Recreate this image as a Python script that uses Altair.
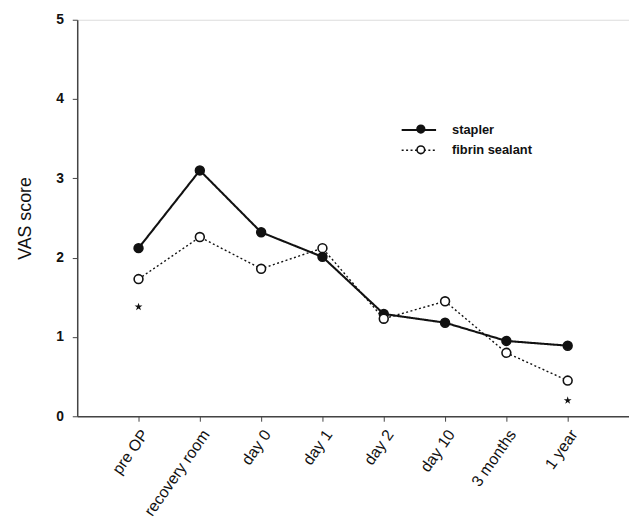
import altair as alt
import pandas as pd

timepoints = ["pre OP", "recovery room", "day 0", "day 1", "day 2", "day 10", "3 months", "1 year"]
series_names = ["stapler", "fibrin sealant"]
stapler = [2.12, 3.10, 2.32, 2.01, 1.29, 1.18, 0.95, 0.89]
fibrin = [1.73, 2.26, 1.86, 2.12, 1.23, 1.45, 0.80, 0.45]
star_times = ["pre OP", "1 year"]
star_values = [1.38, 0.20]
y_ticks = [0, 1, 2, 3, 4, 5]

rows = []
for name, vals in zip(series_names, [stapler, fibrin]):
    for t, v in zip(timepoints, vals):
        rows.append({"time": t, "series": name, "marker": name, "value": v})
df = pd.DataFrame(rows)
stars = pd.DataFrame({"time": star_times, "value": star_values})

STAR = ("M0,-1L0.2245,-0.309L0.951,-0.309L0.363,0.118L0.588,0.809L0,0.382"
        "L-0.588,0.809L-0.363,0.118L-0.951,-0.309L-0.2245,-0.309Z")
WIDE_LINE = "M-2.9,0L2.9,0"

x_enc = alt.X("time:N", sort=timepoints,
              scale=alt.Scale(type="point", padding=1),
              axis=alt.Axis(title=None, labelAngle=-55, labelAlign="right",
                            labelBaseline="middle", labelFontSize=16,
                            labelFont="Liberation Sans", labelColor="#111",
                            tickSize=5, labelPadding=10, labelOffset=6,
                            domainColor="#444", tickColor="#444",
                            domainWidth=1.5, grid=False))
y_enc = alt.Y("value:Q", scale=alt.Scale(domain=[0, 5], nice=False, zero=True),
              axis=alt.Axis(title="VAS score", values=y_ticks, format="d",
                            labelFontSize=14, labelFontWeight="bold",
                            labelFont="Liberation Sans", labelColor="#111",
                            titleFontSize=18, titleFontWeight="normal",
                            titleFont="Liberation Sans", titleColor="#111",
                            titlePadding=21, labelPadding=9, tickSize=5,
                            domainColor="#444", tickColor="#444",
                            domainWidth=1.5, grid=False))

lines = alt.Chart(df).mark_line(color="#111").encode(
    x=x_enc, y=y_enc,
    strokeDash=alt.StrokeDash("series:N", sort=series_names,
        scale=alt.Scale(domain=series_names, range=[[1, 0], [2, 2.5]]),
        legend=alt.Legend(title=None, orient="none", legendX=338, legendY=104,
                          symbolType=WIDE_LINE, symbolSize=144,
                          symbolStrokeColor="#111", symbolStrokeWidth=1.6,
                          labelFontSize=13, labelFontWeight="bold",
                          labelFont="Liberation Sans", labelColor="#111",
                          labelOffset=26, rowPadding=6)),
    strokeWidth=alt.StrokeWidth("series:N",
        scale=alt.Scale(domain=series_names, range=[2.1, 1.4]), legend=None),
)

points = alt.Chart(df).mark_point(filled=False, size=80, strokeWidth=1.6,
                                  stroke="#111", opacity=1, shape="circle").encode(
    x=alt.X("time:N", sort=timepoints),
    y="value:Q",
    fill=alt.Fill("marker:N", sort=series_names,
        scale=alt.Scale(range=["#111", "white"]),
        legend=alt.Legend(title=None, orient="none", legendX=341, legendY=104,
                          symbolType="circle", symbolSize=60,
                          symbolStrokeColor="#111", symbolStrokeWidth=1.6,
                          labelFontSize=13, labelExpr="''", labelOpacity=0,
                          labelFont="Liberation Sans", rowPadding=6)),
)

star_layer = alt.Chart(stars).mark_point(shape=STAR, size=70, filled=True,
                                         color="#111", opacity=1).encode(
    x=alt.X("time:N", sort=timepoints),
    y="value:Q",
)

chart = alt.layer(lines, points, star_layer).properties(
    width=558, height=401,
    autosize=alt.AutoSizeParams(type="none"),
    padding={"left": 70, "top": 9, "right": 0, "bottom": 100},
).configure_view(stroke=None).configure(background="white")

chart.save("out.html", embed_options={"renderer": "svg", "actions": False})
